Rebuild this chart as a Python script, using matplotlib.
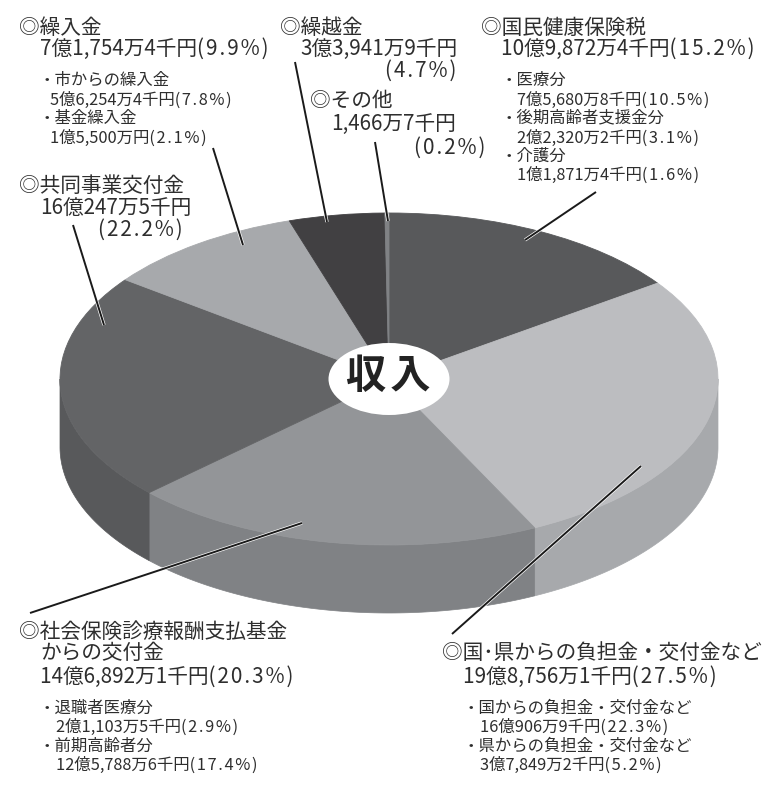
import numpy as np
import matplotlib
matplotlib.use('Agg')
from matplotlib import pyplot as plt
from matplotlib import patheffects as pe
from matplotlib.patches import Ellipse

plt.rcParams['font.family'] = ['Noto Sans CJK JP', 'DejaVu Sans']

shares = [15.2, 27.5, 20.3, 22.2, 9.9, 4.7, 0.2]
top_colors = ['#58595b', '#bcbdc0', '#939598', '#636466', '#a7a9ac', '#414042', '#808285']
side_colors = ['#454547', '#a7a9ac', '#808285', '#58595b', '#8e8f92', '#38383a', '#6d6e70']

W, H = 779, 787
CX, CY, RX, RY, DEPTH = 389, 379, 329, 166, 68

fig = plt.figure(figsize=(W/100, H/100), dpi=100)
ax = fig.add_axes([0, 0, 1, 1])
wedges, _ = ax.pie(shares, colors=top_colors, startangle=90, counterclock=False,
                   wedgeprops={'linewidth': 0.6})
for w in wedges:
    w.set_edgecolor(w.get_facecolor())
    w.set_zorder(3)

# side wall, only the front half shows
depth = DEPTH/RY
cum = np.cumsum([0] + shares)*3.6
for i in range(len(shares)):
    a1, a2 = max(cum[i], 90), min(cum[i+1], 270)
    if a1 >= a2:
        continue
    t = np.radians(np.linspace(a1, a2, 100))
    x, y = np.sin(t), np.cos(t)
    ax.fill(np.r_[x, x[::-1]], np.r_[y, y[::-1] - depth], color=side_colors[i], lw=0.5, zorder=2)

ax.add_patch(Ellipse((0, 0), 121/RX, 72/RY, color='white', lw=0, zorder=4))

ax.set_aspect('auto')
ax.set_xlim(-CX/RX, (W - CX)/RX)
ax.set_ylim((CY - H)/RY, CY/RY)
ax.axis('off')

# pixel axes for text and leader lines
ov = fig.add_axes([0, 0, 1, 1], facecolor='none')
ov.set_xlim(0, W)
ov.set_ylim(H, 0)
ov.axis('off')

leaders = [((213, 148), (243, 245)), ((73, 225), (104, 325)), ((295, 62), (327, 222)),
           ((375, 142), (388, 221)), ((596, 192), (525, 240)), ((30, 613), (302, 523)),
           ((452, 634), (641, 466))]
for p, q in leaders:
    ov.plot([p[0], q[0]], [p[1], q[1]], color='#1a1a1a', lw=1.4, solid_capstyle='butt',
            path_effects=[pe.withStroke(linewidth=2.4, foreground='white')])

TXT = '#2e2e2e'
def big(x, y, s, pct='', **kw):
    # the percent part is set with wider tracking in the original
    s = s + '\u200a'.join(pct)
    ov.text(x, y + 1, s, fontsize=14.9, color=TXT, va='center', ha=kw.pop('ha', 'left'), **kw)

def small(x, y, s, pct=''):
    s = s + '\u200a'.join(pct)
    ov.text(x, y + 1, s, fontsize=11.8, color=TXT, va='center', ha='left')

big(19, 27, '◎繰入金')
big(40, 48, '7億1,754万4千円', '(9.9%)')
small(39, 79, '・市からの繰入金')
small(50, 99, '5億6,254万4千円', '(7.8%)')
small(39, 117, '・基金繰入金')
small(50, 137, '1億5,500万円', '(2.1%)')

big(19, 185, '◎共同事業交付金')
big(40, 207, '16億247万5千円')
big(183, 229, '', '(22.2%)', ha='right')

big(280, 27, '◎繰越金')
big(300, 48, '3億3,941万9千円')
big(456, 70, '', '(4.7%)', ha='right')

big(310, 100, '◎その他')
big(331, 123, '1,466万7千円')
big(485, 147, '', '(0.2%)', ha='right')

big(481, 27, '◎国民健康保険税')
big(501, 48, '10億9,872万4千円', '(15.2%)')
small(501, 79, '・医療分')
small(517, 99, '7億5,680万8千円', '(10.5%)')
small(501, 117, '・後期高齢者支援金分')
small(517, 137, '2億2,320万2千円', '(3.1%)')
small(501, 155, '・介護分')
small(517, 174, '1億1,871万4千円', '(1.6%)')

big(19, 631, '◎社会保険診療報酬支払基金')
big(40, 652, 'からの交付金')
big(40, 676, '14億6,892万1千円', '(20.3%)')
small(39, 707, '・退職者医療分')
small(56, 726, '2億1,103万5千円', '(2.9%)')
small(39, 745, '・前期高齢者分')
small(56, 764, '12億5,788万6千円', '(17.4%)')

big(442, 652, '◎国･県からの負担金・交付金など')
big(463, 676, '19億8,756万1千円', '(27.5%)')
small(463, 707, '・国からの負担金・交付金など')
small(480, 726, '16億906万9千円', '(22.3%)')
small(463, 745, '・県からの負担金・交付金など')
small(480, 764, '3億7,849万2千円', '(5.2%)')

ov.text(388, 377, '収\u200a入', fontsize=29, fontweight='bold', color='#222222', ha='center', va='center')

fig.savefig('out.png', dpi=100)
